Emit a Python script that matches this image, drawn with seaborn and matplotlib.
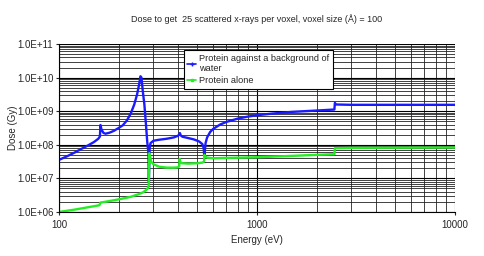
import matplotlib
matplotlib.use('Agg')
import matplotlib.pyplot as plt
import matplotlib.ticker as mticker
import seaborn as sns
import numpy as np
import pandas as pd

# Protein against a background of water (energy in eV, log10 of dose in Gy)
water_energy = [100, 110, 120, 130, 140, 150, 158, 161, 162, 164, 168, 172, 180, 190,
                200, 210, 220, 230, 240, 248, 254, 258, 261, 265, 270, 275, 279, 283,
                284.5, 285.5, 287, 290, 300, 320, 350, 380, 400, 408, 412, 420, 450,
                480, 510, 530, 538, 542, 546, 550, 560, 580, 600, 650, 700, 800, 900,
                1000, 1200, 1500, 2000, 2460, 2475, 2500, 3000, 5000, 10000]
water_logdose = [7.55, 7.66, 7.77, 7.88, 7.98, 8.08, 8.18, 8.25, 8.59, 8.45, 8.35, 8.33,
                 8.36, 8.42, 8.50, 8.58, 8.72, 8.92, 9.20, 9.50, 9.80, 10.04, 10.00,
                 9.60, 9.20, 8.60, 8.10, 7.75, 6.90, 7.30, 7.90, 8.05, 8.12, 8.15, 8.18,
                 8.22, 8.27, 8.35, 8.28, 8.24, 8.20, 8.16, 8.10, 8.02, 7.90, 7.65, 7.85,
                 8.05, 8.22, 8.38, 8.47, 8.60, 8.68, 8.78, 8.84, 8.88, 8.93, 8.98, 9.02,
                 9.05, 9.25, 9.20, 9.19, 9.19, 9.19]

# Protein alone
alone_energy = [100, 120, 140, 160, 162, 170, 190, 210, 230, 250, 265, 275, 282, 284,
                285, 286, 288, 292, 300, 320, 350, 380, 400, 405, 407, 410, 420, 450,
                500, 530, 540, 543, 548, 560, 600, 700, 1000, 1500, 2000, 2460, 2475,
                3000, 10000]
alone_logdose = [6.00, 6.07, 6.14, 6.20, 6.28, 6.30, 6.35, 6.40, 6.45, 6.52, 6.58, 6.65,
                 6.72, 6.80, 7.20, 7.75, 7.65, 7.50, 7.42, 7.35, 7.32, 7.32, 7.33, 7.36,
                 7.58, 7.48, 7.45, 7.44, 7.45, 7.47, 7.50, 7.70, 7.65, 7.62, 7.60, 7.61,
                 7.63, 7.67, 7.70, 7.72, 7.90, 7.91, 7.92]

label_water = 'Protein against a background of\nwater'
label_alone = 'Protein alone'

df = pd.concat([
    pd.DataFrame({'energy': water_energy, 'dose': np.power(10.0, water_logdose), 'series': label_water}),
    pd.DataFrame({'energy': alone_energy, 'dose': np.power(10.0, alone_logdose), 'series': label_alone}),
])

sns.set_style('white')
plt.rcParams['font.family'] = ['Liberation Sans', 'DejaVu Sans']

fig = plt.figure(figsize=(4.85, 2.56), dpi=100)
ax = fig.add_axes([0.1216, 0.172, 0.8165, 0.656])

sns.lineplot(data=df, x='energy', y='dose', hue='series', sort=False, estimator=None,
             palette={label_water: '#1a1aff', label_alone: '#22ee22'},
             linewidth=1.7, ax=ax, legend=False)

ax.set_xscale('log')
ax.set_yscale('log')
ax.set_xlim(100, 10000)
ax.set_ylim(1e6, 1e11)

ax.xaxis.set_major_locator(mticker.LogLocator(base=10))
ax.xaxis.set_minor_locator(mticker.LogLocator(base=10, subs=np.arange(2, 10)))
ax.yaxis.set_major_locator(mticker.LogLocator(base=10))
ax.yaxis.set_minor_locator(mticker.LogLocator(base=10, subs=np.arange(2, 10)))
ax.xaxis.set_major_formatter(mticker.FuncFormatter(lambda v, p: f'{v:.0f}'))
ax.yaxis.set_major_formatter(mticker.FuncFormatter(lambda v, p: f'{v:.1E}'))
ax.xaxis.set_minor_formatter(mticker.NullFormatter())
ax.yaxis.set_minor_formatter(mticker.NullFormatter())

ax.grid(True, which='major', color='black', linewidth=0.8)
ax.grid(True, which='minor', color='#222222', linewidth=0.6)
ax.set_axisbelow(True)

for side in ['top', 'right']:
    ax.spines[side].set_visible(False)
for side in ['left', 'bottom']:
    ax.spines[side].set_color('black')
    ax.spines[side].set_linewidth(0.8)

ax.tick_params(axis='both', which='major', direction='out', length=2.5, width=0.8,
               labelsize=7, pad=1.5, left=True, bottom=True)
ax.tick_params(axis='x', which='major', pad=3)
ax.tick_params(axis='both', which='minor', length=0)

ax.set_xlabel('Energy (eV)', fontsize=7, labelpad=4)
ax.set_ylabel('Dose (Gy)', fontsize=7, labelpad=-1)
fig.text(0.53, 0.925, 'Dose to get  25 scattered x-rays per voxel, voxel size (Å) = 100',
         ha='center', va='center', fontsize=6.45)

handles = [plt.Line2D([], [], color='#1a1aff', linewidth=1.2, marker='+', markersize=3),
           plt.Line2D([], [], color='#22ee22', linewidth=1.2, marker='s', markersize=2)]
leg = ax.legend(handles, [label_water, label_alone], loc='upper left',
                bbox_to_anchor=(0.3147, 0.964), fontsize=6.6, frameon=True, fancybox=False,
                handlelength=1.0, handletextpad=0.3, borderpad=0.4, labelspacing=0.35,
                borderaxespad=0)
leg.get_frame().set_edgecolor('black')
leg.get_frame().set_linewidth(0.8)
leg.get_frame().set_alpha(1)

fig.savefig('out.png', dpi=100)
